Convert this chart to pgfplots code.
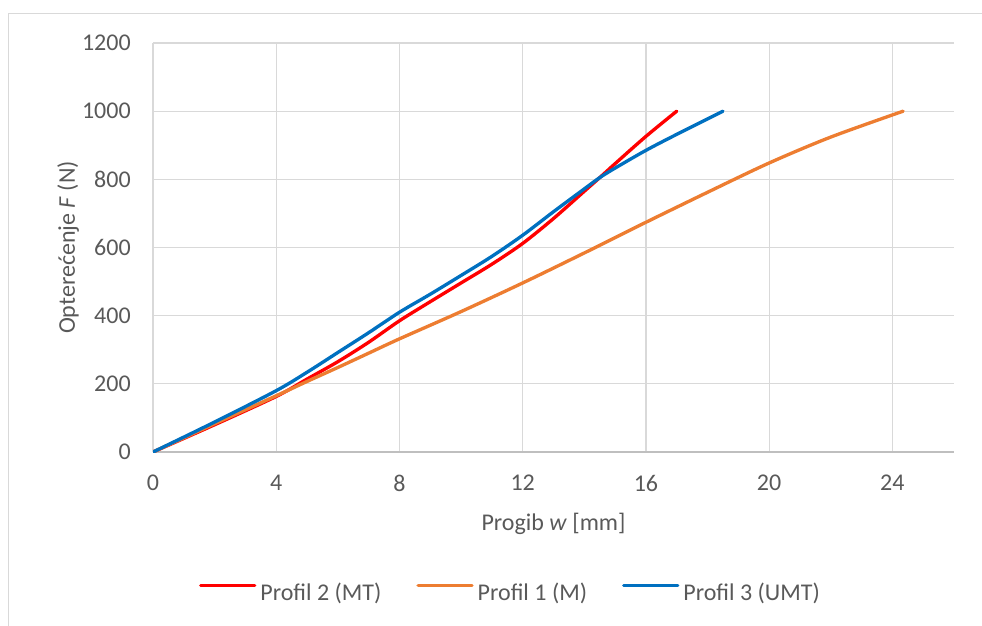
\documentclass[border=0pt]{standalone}
\usepackage{pgfplots}
\pgfplotsset{compat=1.18}
\usepackage{fontspec}
\setmainfont{Carlito}
\definecolor{txt}{HTML}{595959}
\definecolor{gridc}{HTML}{D9D9D9}
\definecolor{axc}{HTML}{BFBFBF}
\definecolor{cred}{HTML}{FF0000}
\definecolor{corange}{HTML}{ED7D31}
\definecolor{cblue}{HTML}{0070C0}
\begin{document}
\begin{tikzpicture}
\useasboundingbox (0pt,0pt) rectangle (736.5pt,-468.75pt);
\draw[gridc, line width=0.9pt] (6.375pt,-475pt) -- (6.375pt,-10.125pt) -- (745pt,-10.125pt);
\begin{axis}[
  at={(114.75pt,-339pt)}, anchor=south west,
  scale only axis, width=600.75pt, height=306.75pt,
  xmin=0, xmax=26, ymin=0, ymax=1200,
  xtick={0,4,...,24}, ytick={0,200,...,1200},
  grid=major, major grid style={gridc, line width=0.9pt},
  axis lines*=left, separate axis lines,
  x axis line style={axc, line width=0.9pt, -},
  y axis line style={draw=none},
  major tick length=0pt,
  /pgf/number format/assume math mode=true,
  /pgf/number format/1000 sep={},
  tick label style={font=\fontsize{18}{21}\selectfont, text=txt, inner sep=0pt},
  yticklabel style={xshift=-16.5pt},
  xticklabel style={yshift=-17.25pt},
  xlabel={Progib \textit{w} [mm]},
  ylabel={Opterećenje \textit{F} (N)},
  label style={font=\fontsize{18}{21}\selectfont, text=txt, inner sep=0pt},
  xlabel style={at={(rel axis cs:0.5,-0.1907)}, anchor=base},
  ylabel style={at={(rel axis cs:-0.0974,0.5)}, anchor=base},
  legend columns=3,
  legend style={at={(rel axis cs:0.445,-0.345)}, anchor=center, draw=none, fill=none,
    font=\fontsize{18}{21}\selectfont, text=txt, inner sep=0pt,
    nodes={inner sep=0pt},
    /tikz/every even column/.append style={column sep=26.25pt},
    /tikz/every odd column/.append style={column sep=3pt}},
  legend image code/.code={\draw[#1] (0pt,5.8pt) -- (40.5pt,5.8pt);},
  every axis plot/.append style={line width=2.5pt, line cap=round, line join=round, smooth, tension=0.5},
]
\addplot[cred] coordinates {
 (0,0) (2,80) (4,163) (5,214) (6,265) (7,322) (8,385) (9,441) (10,496) (11,551) (12,612) (13,685) (14,765) (14.5,805) (15,846) (16,926) (17,1000)
};
\addlegendentry{Profil 2 (MT)}
\addplot[corange] coordinates {
 (0,0) (2,83) (4,165) (5,207) (6,248) (7,290) (8,332) (10,412) (12,496) (14,584) (16,674) (18,762) (20,848) (22,924) (24.35,1000)
};
\addlegendentry{Profil 1 (M)}
\addplot[cblue] coordinates {
 (0,0) (2,88) (4,180) (5,234) (6,292) (7,350) (8,410) (9,463) (10,518) (11,574) (12,636) (13,705) (14,772) (14.5,805) (15,833) (16,885) (17,932) (18.5,1000)
};
\addlegendentry{Profil 3 (UMT)}
\end{axis}
\end{tikzpicture}
\end{document}
